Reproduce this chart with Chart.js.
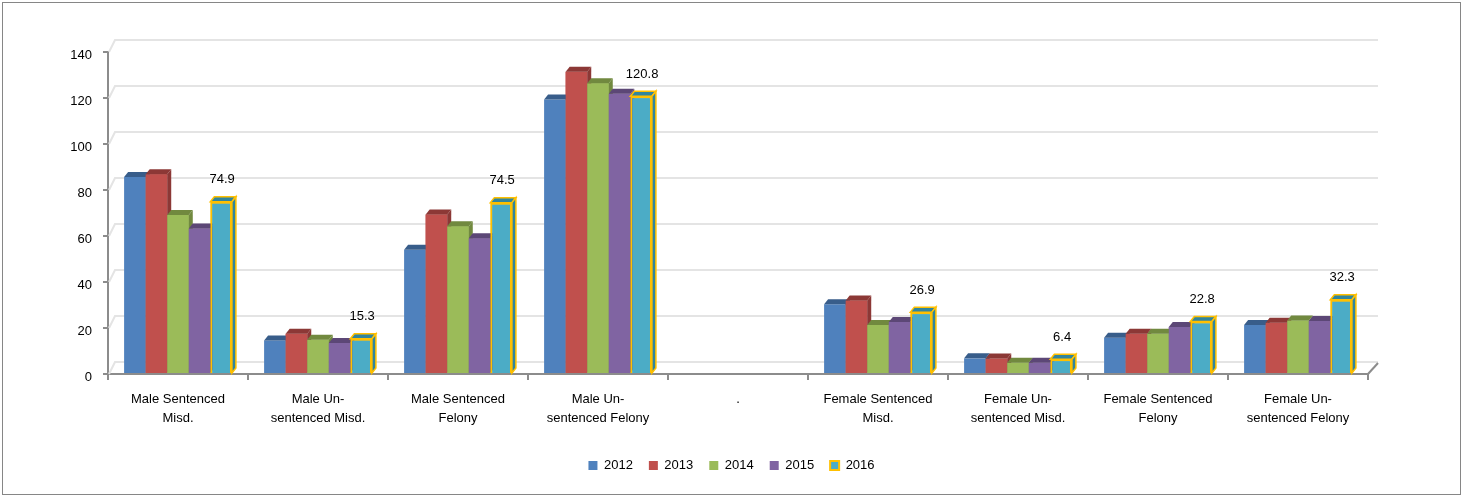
<!DOCTYPE html>
<html>
<head>
<meta charset="utf-8">
<script src="https://cdn.jsdelivr.net/npm/chart.js@4.4.1/dist/chart.umd.min.js"></script>
<style>
  body { margin: 0; background: #fff; }
  #frame { position: absolute; left: 2px; top: 2px; width: 1457px; height: 491px; border: 1px solid #868686; }
  #wrap { position: absolute; left: 0; top: 0; width: 1463px; height: 497px; }
</style>
</head>
<body>
<div id="frame"></div>
<div id="wrap"><canvas id="grafico" width="1463" height="497"></canvas></div>
<script>
// categorias (duas linhas por rótulo)
const categories = [
  ['Male Sentenced', 'Misd.'],
  ['Male Un-', 'sentenced Misd.'],
  ['Male Sentenced', 'Felony'],
  ['Male Un-', 'sentenced Felony'],
  '.',
  ['Female Sentenced', 'Misd.'],
  ['Female Un-', 'sentenced Misd.'],
  ['Female Sentenced', 'Felony'],
  ['Female Un-', 'sentenced Felony']
];
const years = ['2012', '2013', '2014', '2015', '2016'];

const v2012 = [85.6, 14.6, 54.0, 119.4, null, 30.3, 6.8, 15.8, 21.3];
const v2013 = [86.8, 17.5, 69.4, 131.4, null, 32.0, 6.7, 17.5, 22.3];
const v2014 = [69.1, 14.9, 64.2, 126.4, null, 21.3, 4.9, 17.5, 23.3];
const v2015 = [63.3, 13.5, 59.0, 121.9, null, 22.6, 4.9, 20.4, 23.0];
const v2016 = [74.9, 15.3, 74.5, 120.8, null, 26.9, 6.4, 22.8, 32.3];

const yTicks = [0, 20, 40, 60, 80, 100, 120, 140];

const cores = ['#4F81BD', '#C0504D', '#9BBB59', '#8064A2', '#4BACC6'];
const coresEscuras = ['#385D8A', '#8C3836', '#71893F', '#5C4776', '#31859C'];
const dourado = '#FFC000';
const eixoCor = '#8C8C8C';

const FONTE = 'Liberation Sans, Arial, sans-serif';
Chart.defaults.font.family = FONTE;
Chart.defaults.font.size = 13;
Chart.defaults.color = '#000';

// profundidade 3D das barras e da parede
const DX = 4, DY = 5;
const WX = 7, WY = 12;

const parede3d = {
  id: 'parede3d',
  beforeDatasetsDraw(chart) {
    const ctx = chart.ctx;
    const y = chart.scales.y;
    const area = chart.chartArea;
    ctx.save();
    ctx.strokeStyle = '#E4E4E4';
    ctx.lineWidth = 2;
    yTicks.forEach(function(v) {
      const py = y.getPixelForValue(v);
      ctx.beginPath();
      ctx.moveTo(area.left + 1, py);
      ctx.lineTo(area.left + WX, py - WY);
      ctx.lineTo(area.right + 10, py - WY);
      ctx.stroke();
    });
    // canto direito do piso
    ctx.strokeStyle = eixoCor;
    ctx.beginPath();
    ctx.moveTo(area.right, area.bottom);
    ctx.lineTo(area.right + 10, area.bottom - WY + 1);
    ctx.stroke();
    ctx.restore();
  }
};

// desenha topo e lado de cada barra; a barra seguinte e redesenhada por cima
function faces(ctx, bar, i) {
  const p = bar.getProps(['x', 'y', 'base', 'width'], true);
  const l = p.x - p.width / 2, r = p.x + p.width / 2;
  ctx.fillStyle = coresEscuras[i];
  ctx.strokeStyle = dourado;
  ctx.lineWidth = 1.5;
  ctx.beginPath();
  ctx.moveTo(l, p.y);
  ctx.lineTo(l + DX, p.y - DY);
  ctx.lineTo(r + DX, p.y - DY);
  ctx.lineTo(r, p.y);
  ctx.closePath();
  ctx.fill();
  if (i === 4) ctx.stroke();
  ctx.beginPath();
  ctx.moveTo(r, p.y);
  ctx.lineTo(r + DX, p.y - DY);
  ctx.lineTo(r + DX, p.base - DY);
  ctx.lineTo(r, p.base);
  ctx.closePath();
  ctx.fill();
  if (i === 4) ctx.stroke();
}

const barras3d = {
  id: 'barras3d',
  afterDatasetsDraw(chart) {
    const ctx = chart.ctx;
    ctx.save();
    for (let i = 0; i < 5; i++) {
      const meta = chart.getDatasetMeta(i);
      meta.data.forEach(function(bar, k) {
        if (chart.data.datasets[i].data[k] == null) return;
        faces(ctx, bar, i);
        if (i < 4) chart.getDatasetMeta(i + 1).data[k].draw(ctx);
      });
    }
    // rótulos de 2016
    ctx.fillStyle = '#000';
    ctx.font = '13px ' + FONTE;
    ctx.textAlign = 'center';
    ctx.textBaseline = 'middle';
    chart.getDatasetMeta(4).data.forEach(function(bar, k) {
      const v = v2016[k];
      if (v == null) return;
      ctx.fillText(v.toFixed(1), bar.x + 1, bar.y - 22);
    });
    ctx.restore();
  }
};

const series = [v2012, v2013, v2014, v2015, v2016];
const datasets = series.map(function(d, i) {
  return {
    label: years[i],
    data: d,
    backgroundColor: cores[i],
    borderColor: i === 4 ? dourado : cores[i],
    borderWidth: i === 4 ? 2 : 0,
    categoryPercentage: 0.77,
    barPercentage: 1.0
  };
});

new Chart(document.getElementById('grafico').getContext('2d'), {
  type: 'bar',
  data: { labels: categories, datasets: datasets },
  plugins: [parede3d, barras3d],
  options: {
    responsive: false,
    animation: false,
    layout: { padding: { left: 0, right: 0, top: 52, bottom: 15 } },
    plugins: {
      legend: {
        position: 'bottom',
        labels: { boxWidth: 9, boxHeight: 9, padding: 16, color: '#000' }
      },
      tooltip: { enabled: false }
    },
    scales: {
      x: {
        grid: { drawOnChartArea: false, drawTicks: true, tickLength: 6, color: eixoCor, lineWidth: 2, offset: true },
        border: { color: eixoCor, width: 2 },
        ticks: { autoSkip: false, maxRotation: 0, padding: 10, font: { size: 13, lineHeight: 1.45 } },
        afterFit: function(scale) { scale.height = 69; }
      },
      y: {
        min: 0,
        max: 140,
        grid: { drawOnChartArea: false, tickLength: 5, color: eixoCor, lineWidth: 2 },
        border: { color: eixoCor, width: 2 },
        ticks: { stepSize: 20, padding: 11, labelOffset: 3 },
        afterFit: function(scale) { scale.width = 108; }
      },
      // eixo vazio à direita só para reservar espaço e manter a legenda centrada
      folga: {
        type: 'linear',
        position: 'right',
        grid: { display: false },
        border: { display: false },
        ticks: { display: false },
        afterFit: function(scale) { scale.width = 95; }
      }
    }
  }
});
</script>
</body>
</html>
